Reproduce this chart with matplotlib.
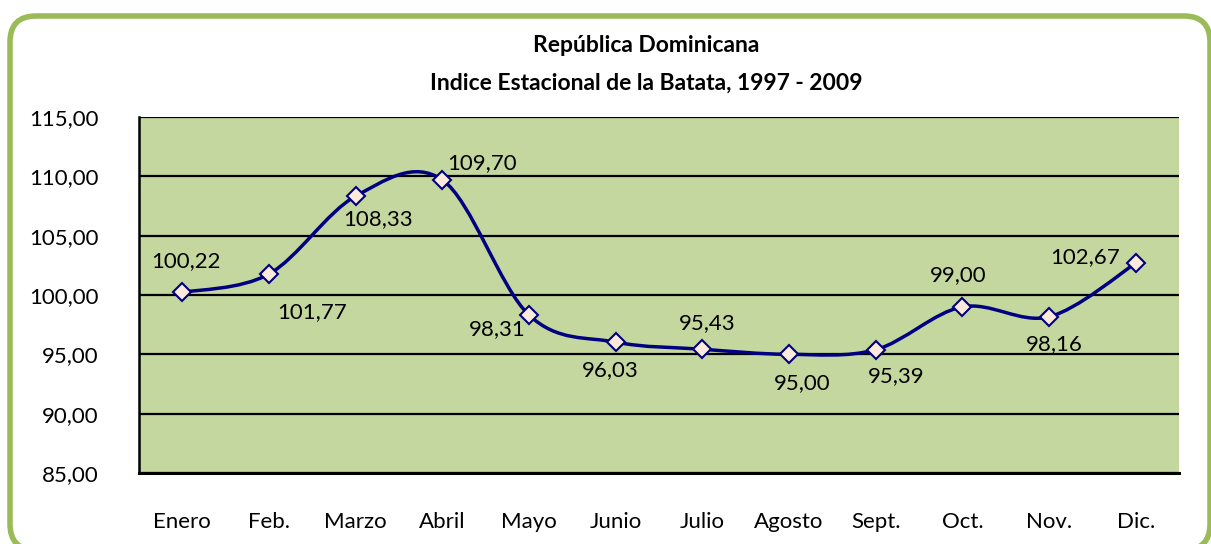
import numpy as np
import matplotlib
matplotlib.use('Agg')
import matplotlib.pyplot as plt
from matplotlib.path import Path
from matplotlib.patches import PathPatch, FancyBboxPatch

plt.rcParams['font.family'] = ['Lato', 'DejaVu Sans']

meses = ['Enero', 'Feb.', 'Marzo', 'Abril', 'Mayo', 'Junio', 'Julio',
         'Agosto', 'Sept.', 'Oct.', 'Nov.', 'Dic.']
indice = [100.22, 101.77, 108.33, 109.70, 98.31, 96.03, 95.43,
          95.00, 95.39, 99.00, 98.16, 102.67]
yticks = [85, 90, 95, 100, 105, 110, 115]

# label offsets in pixels (dx, dy) as placed in the original
offsets = [(4, 31), (43, -38), (22, -23), (40, 17), (-32, -14), (-5, -28),
           (5, 26), (13, -29), (21, -26), (-4, 32), (5, -27), (-51, 6)]

navy = '#000080'
fs = 16
fig = plt.figure(figsize=(12.11, 5.44), dpi=100)

# rounded green frame, drawn in pixel units on a background axes
bg = fig.add_axes([0, 0, 1, 1], zorder=-1)
bg.set_xlim(0, 1211)
bg.set_ylim(544, 0)
bg.axis('off')
bg.add_patch(FancyBboxPatch((10, 16), 1200, 534,
                            boxstyle='round,pad=0,rounding_size=26',
                            facecolor='white', edgecolor='#9BBB59', linewidth=4,
                            clip_on=False))

ax = fig.add_axes([139 / 1211, 71 / 544, 1040 / 1211, 356 / 544])
ax.set_facecolor('#C4D79F')
x = np.arange(len(meses))
y = np.array(indice)

# smoothed line like Excel (cubic bezier, catmull-rom control points)
verts = [(x[0], y[0])]
codes = [Path.MOVETO]
n = len(x)
for i in range(n - 1):
    p0 = np.array([x[max(i - 1, 0)], y[max(i - 1, 0)]])
    p1 = np.array([x[i], y[i]])
    p2 = np.array([x[i + 1], y[i + 1]])
    p3 = np.array([x[min(i + 2, n - 1)], y[min(i + 2, n - 1)]])
    c1 = p1 + (p2 - p0) / 6
    c2 = p2 - (p3 - p1) / 6
    verts += [tuple(c1), tuple(c2), tuple(p2)]
    codes += [Path.CURVE4] * 3
ax.add_patch(PathPatch(Path(verts, codes), facecolor='none', edgecolor=navy,
                       linewidth=2.5, zorder=3))
ax.plot(x, y, linestyle='none', marker='D', markersize=9.5,
        markerfacecolor='#FDEADA', markeredgecolor=navy, markeredgewidth=1.5, zorder=4)

for xi, yi, (dx, dy) in zip(x, y, offsets):
    ax.annotate(('%.2f' % yi).replace('.', ','), (xi, yi), xytext=(dx, dy),
                textcoords='offset pixels', ha='center', va='center', fontsize=fs,
                color='black', zorder=5)

ax.set_xlim(-0.5, 11.5)
ax.set_ylim(85, 115)
ax.set_yticks(yticks)
ax.set_yticklabels([('%.2f' % v).replace('.', ',') for v in yticks])
ax.set_xticks(x)
ax.set_xticklabels(meses)
ax.tick_params(axis='both', length=0, labelsize=fs)
ax.tick_params(axis='y', pad=29)
ax.tick_params(axis='x', pad=28)
ax.grid(axis='y', color='black', linewidth=1.6)
ax.set_axisbelow(True)
for s in ['top', 'right']:
    ax.spines[s].set_visible(False)
ax.spines['left'].set_linewidth(1.8)
ax.spines['bottom'].set_linewidth(2.2)

fig.text(0.5 * (420 + 873) / 1211, 1 - 45 / 544, 'República Dominicana',
         ha='center', va='center', fontsize=16.5, fontweight='bold')
fig.text(0.5 * (420 + 873) / 1211, 1 - 83 / 544, 'Indice Estacional de la Batata, 1997 - 2009',
         ha='center', va='center', fontsize=16.5, fontweight='bold')

fig.savefig('out.png', dpi=100)
